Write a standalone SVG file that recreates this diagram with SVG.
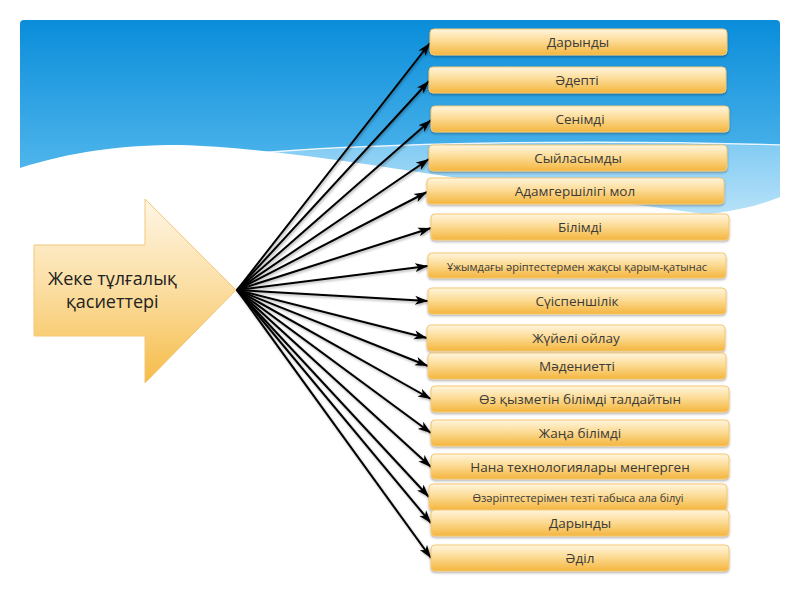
<svg xmlns="http://www.w3.org/2000/svg" width="800" height="600" viewBox="0 0 800 600">
<defs>
<linearGradient id="sky" x1="0" y1="20" x2="0" y2="210" gradientUnits="userSpaceOnUse">
<stop offset="0" stop-color="#0A8DDA"/>
<stop offset="1" stop-color="#62C0F0"/>
</linearGradient>
<linearGradient id="band" x1="0" y1="140" x2="0" y2="215" gradientUnits="userSpaceOnUse">
<stop offset="0" stop-color="#7FCAF3"/>
<stop offset="1" stop-color="#B8E2F8"/>
</linearGradient>
<linearGradient id="boxg" x1="0" y1="0" x2="0" y2="1">
<stop offset="0" stop-color="#FFF5DE"/>
<stop offset="0.45" stop-color="#FCDC96"/>
<stop offset="1" stop-color="#F4B53E"/>
</linearGradient>
<linearGradient id="arrowg" x1="0" y1="199" x2="0" y2="383" gradientUnits="userSpaceOnUse">
<stop offset="0" stop-color="#FEF6E6"/>
<stop offset="0.5" stop-color="#FBDDA0"/>
<stop offset="1" stop-color="#F5BC48"/>
</linearGradient>
<filter id="sh" x="-10%" y="-30%" width="120%" height="170%">
<feDropShadow dx="0" dy="1.5" stdDeviation="1.2" flood-color="#000" flood-opacity="0.3"/>
</filter>
<filter id="lsh" x="-5%" y="-5%" width="110%" height="110%">
<feDropShadow dx="1" dy="1.5" stdDeviation="1" flood-color="#000" flood-opacity="0.3"/>
</filter>
<marker id="ah" markerUnits="userSpaceOnUse" markerWidth="14" markerHeight="10" refX="13" refY="5" orient="auto">
<path d="M0,0.5 L13,5 L0,9.5 L3.5,5 Z" fill="#000"/>
</marker>
<style>
.box{fill:url(#boxg);stroke:#F6C873;stroke-width:1;filter:url(#sh)}
.t{font-family:"Open Sans","Noto Sans",sans-serif;font-size:13.5px;fill:#3A3A3A;text-anchor:middle;dominant-baseline:central}
.s{font-size:11px}
.c line{stroke:#000;stroke-width:2;marker-end:url(#ah)}
.big{font-family:"Open Sans","Noto Sans",sans-serif;font-size:18px;fill:#222}
</style>
</defs>
<rect width="800" height="600" fill="#fff"/>
<g id="background">
<path d="M20,320 L20,24 Q20,20 24,20 L776,20 Q780,20 780,24 L780,320 Z" fill="url(#sky)"/>
<path d="M230,156 C330,146 550,139 780,146 L780,197 C765,204 740,212 705,214 C500,192 320,154 230,156 Z" fill="url(#band)"/>
<path d="M225,156 C330,145 550,138 780,145" fill="none" stroke="#fff" stroke-width="1.5" opacity="0.9"/>
<path d="M20,168 C70,152 120,145 180,145 C300,148 480,185 705,214 C740,211 765,203 780,197 L780,600 L20,600 Z" fill="#fff"/>
</g>
<g id="source">
<path d="M34,245 L145,245 L145,199 L236,290 L145,383 L145,336 L34,336 Z" fill="url(#arrowg)" stroke="#F5C778" stroke-width="1"/>
<text class="big" x="48" y="285">Жеке тұлғалық</text>
<text class="big" x="66" y="308">қасиеттері</text>
</g>
<g id="connectors" class="c" filter="url(#lsh)">
<line x1="237" y1="290" x2="430" y2="43"/>
<line x1="237" y1="290" x2="429" y2="81"/>
<line x1="237" y1="290" x2="431" y2="120"/>
<line x1="237" y1="290" x2="429" y2="159"/>
<line x1="237" y1="290" x2="427" y2="192"/>
<line x1="237" y1="290" x2="431" y2="228"/>
<line x1="237" y1="290" x2="428" y2="266"/>
<line x1="237" y1="290" x2="428" y2="301"/>
<line x1="237" y1="290" x2="427" y2="338"/>
<line x1="237" y1="290" x2="428" y2="366"/>
<line x1="237" y1="290" x2="431" y2="399"/>
<line x1="237" y1="290" x2="431" y2="433"/>
<line x1="237" y1="290" x2="431" y2="467"/>
<line x1="237" y1="290" x2="429" y2="497"/>
<line x1="237" y1="290" x2="431" y2="523"/>
<line x1="237" y1="290" x2="431" y2="558"/>
</g>
<g id="n1"><rect class="box" x="430" y="29" width="297" height="26" rx="4"/><text class="t" x="578" y="42">Дарынды</text></g>
<g id="n2"><rect class="box" x="429" y="67" width="297" height="26" rx="4"/><text class="t" x="577" y="80">Әдепті</text></g>
<g id="n3"><rect class="box" x="431" y="106" width="298" height="26" rx="4"/><text class="t" x="580" y="119">Сенімді</text></g>
<g id="n4"><rect class="box" x="429" y="145" width="298" height="26" rx="4"/><text class="t" x="578" y="158">Сыйласымды</text></g>
<g id="n5"><rect class="box" x="427" y="178" width="297" height="26" rx="4"/><text class="t" x="575" y="191">Адамгершілігі мол</text></g>
<g id="n6"><rect class="box" x="431" y="214" width="298" height="26" rx="4"/><text class="t" x="580" y="227">Білімді</text></g>
<g id="n7"><rect class="box" x="428" y="253" width="298" height="25" rx="4"/><text class="t s" x="577" y="266">Ұжымдағы әріптестермен жақсы қарым-қатынас</text></g>
<g id="n8"><rect class="box" x="428" y="288" width="298" height="26" rx="4"/><text class="t" x="577" y="301">Сүіспеншілік</text></g>
<g id="n9"><rect class="box" x="427" y="325" width="298" height="26" rx="4"/><text class="t" x="576" y="338">Жүйелі ойлау</text></g>
<g id="n10"><rect class="box" x="428" y="353" width="298" height="26" rx="4"/><text class="t" x="577" y="366">Мәдениетті</text></g>
<g id="n11"><rect class="box" x="431" y="386" width="298" height="26" rx="4"/><text class="t" x="580" y="399">Өз қызметін білімді талдайтын</text></g>
<g id="n12"><rect class="box" x="431" y="420" width="298" height="26" rx="4"/><text class="t" x="580" y="433">Жаңа білімді</text></g>
<g id="n13"><rect class="box" x="431" y="454" width="298" height="25" rx="4"/><text class="t" x="580" y="467">Нана технологиялары менгерген</text></g>
<g id="n14"><rect class="box" x="429" y="484" width="298" height="26" rx="4"/><text class="t s" x="578" y="497">Өзәріптестерімен тезті табыса ала білуі</text></g>
<g id="n15"><rect class="box" x="431" y="510" width="298" height="26" rx="4"/><text class="t" x="580" y="523">Дарынды</text></g>
<g id="n16"><rect class="box" x="431" y="545" width="298" height="26" rx="4"/><text class="t" x="580" y="558">Әділ</text></g>
</svg>
